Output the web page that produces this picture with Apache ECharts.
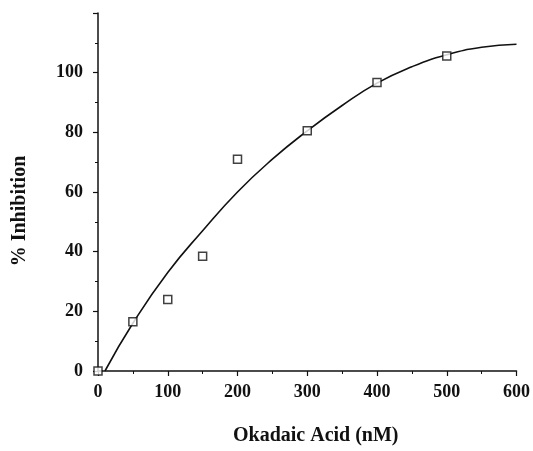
<!DOCTYPE html>
<html>
<head>
<meta charset="utf-8">
<script src="https://cdn.jsdelivr.net/npm/echarts@6/dist/echarts.min.js"></script>
<style>
  html, body { margin: 0; padding: 0; background: #fff; }
  #chart { width: 533px; height: 451px; }
</style>
</head>
<body>
<div id="chart"></div>
<script>
// measured points (okadaic acid, nM) and % inhibition
const doses = [0, 50, 100, 150, 200, 300, 400, 500];
const inhibition = [0, 16.5, 24, 38.5, 71, 80.5, 96.7, 105.6];

// fitted curve
const curveX = [10, 50, 100, 150, 200, 250, 300, 350, 400, 450, 500, 550, 600];
const curveY = [0, 16, 33, 47, 60, 71, 80.5, 89, 96.5, 102, 106, 108.5, 109.5];

const font = "'Liberation Serif', 'Times New Roman', serif";

const chart = echarts.init(document.getElementById('chart'));

chart.setOption({
	animation: false,
	grid: { left: 98, right: 15, top: 13, bottom: 76 },
	xAxis: {
		type: 'value',
		min: 0,
		max: 600,
		interval: 100,
		name: 'Okadaic Acid (nM)',
		nameLocation: 'middle',
		nameGap: 55,
		nameTextStyle: { fontFamily: font, fontWeight: 'bold', fontSize: 20, color: '#111', verticalAlign: 'top', padding: [0, 0, 0, 17] },
		axisLine: { lineStyle: { color: '#111', width: 1.5 } },
		axisTick: { length: 5, lineStyle: { color: '#111', width: 1.2 } },
		minorTick: { show: true, splitNumber: 2, length: 3, lineStyle: { color: '#111' } },
		axisLabel: { fontFamily: font, fontWeight: 'bold', fontSize: 18, color: '#111', margin: 12 },
		splitLine: { show: false },
	},
	yAxis: {
		type: 'value',
		min: 0,
		max: 120,
		interval: 20,
		name: '% Inhibition',
		nameLocation: 'middle',
		nameGap: 68,
		nameRotate: 90,
		nameTextStyle: { fontFamily: font, fontWeight: 'bold', fontSize: 20, color: '#111', padding: [0, 38, 0, 0] },
		axisLine: { lineStyle: { color: '#111', width: 1.5 } },
		axisTick: { length: 5, lineStyle: { color: '#111', width: 1.2 } },
		minorTick: { show: true, splitNumber: 2, length: 3, lineStyle: { color: '#111' } },
		axisLabel: {
			fontFamily: font, fontWeight: 'bold', fontSize: 18, color: '#111', margin: 15,
			formatter: (v) => (v > 100 ? '' : v),
		},
		splitLine: { show: false },
	},
	series: [
		{
			type: 'line',
			data: curveX.map((x, i) => [x, curveY[i]]),
			smooth: true,
			showSymbol: false,
			lineStyle: { color: '#111', width: 1.6 },
			z: 2,
		},
		{
			type: 'scatter',
			data: doses.map((x, i) => [x, inhibition[i]]),
			symbol: 'rect',
			symbolSize: 8,
			itemStyle: { color: '#fff', borderColor: '#111', borderWidth: 1.5 },
			z: 3,
		},
	],
});
</script>
</body>
</html>
